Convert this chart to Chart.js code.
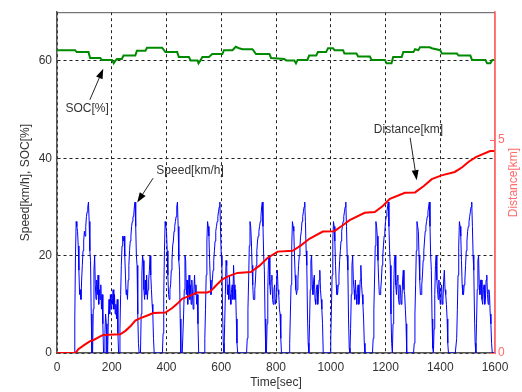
<!DOCTYPE html>
<html><head><meta charset="utf-8">
<script src="https://cdn.jsdelivr.net/npm/chart.js@4.4.0/dist/chart.umd.min.js"></script>
<style>html,body{margin:0;padding:0;background:#fff;}canvas{display:block;}</style>
</head><body>
<canvas id="c" width="522" height="392"></canvas>
<script>
// ---- data ----
const speedStepSec = 2.5; // speed sampled every 2.5 s, starting at t = 0 (20 values per 50 s row)
const speedKmh = [
  0,0,0,0,0,0,0,0,0,0,0,0,0,0,0,0,0,0,0,0,
  0,0,0,0,0,0,7,20,27,26,25,22,17,12,13,11,15,18,21,23,
  25,24,26,28,29,30,31,27,21,19,8,0,0,9,17,20,14,11,15,12,
  16,10,13,11,14,9,12,6,0,0,4,8,6,0,0,7,11,8,12,9,
  12,10,13,9,12,8,10,7,11,4,0,0,5,12,18,22,24,23,24,20,
  16,12,13,11,15,18,21,23,24,26,27,28,28,30,31,26,20,18,8,2,
  0,0,0,8,16,20,19,13,11,15,12,16,11,13,15,17,20,16,13,10,
  8,3,0,0,0,0,0,0,0,0,0,0,0,0,0,4,12,21,27,26,
  25,21,16,12,11,13,14,17,19,22,23,25,26,27,28,30,31,26,19,17,
  7,0,0,0,0,8,13,20,19,12,15,10,13,16,11,14,10,15,12,9,
  13,16,12,14,10,12,6,0,0,0,0,0,0,0,0,0,3,9,16,23,
  27,26,24,19,15,12,13,15,17,19,21,23,25,26,27,28,29,30,31,25,
  20,18,8,2,0,6,12,19,18,12,14,11,16,12,10,13,14,11,18,14,
  11,13,7,2,0,0,0,0,0,0,0,0,0,0,0,0,0,0,3,9,
  15,22,27,26,23,18,14,11,11,13,15,18,21,23,24,25,26,27,28,30,
  31,26,20,17,7,0,0,6,13,19,20,14,12,15,16,11,10,13,14,10,
  11,15,17,13,12,9,8,3,0,0,0,0,0,0,0,0,0,0,0,0,
  2,8,14,22,27,26,25,20,16,13,12,13,15,18,20,22,24,25,27,28,
  29,30,31,27,21,18,8,2,0,6,13,19,20,14,12,15,16,11,10,13,
  14,10,12,15,17,13,11,9,6,0,0,0,0,0,0,0,0,0,0,0,
  3,9,16,23,27,26,23,18,14,12,12,14,16,19,21,23,25,26,27,28,
  29,30,31,26,20,17,7,1,0,5,12,18,20,15,13,11,15,12,10,13,
  14,10,11,15,18,14,12,10,7,2,0,0,0,0,0,0,0,0,0,0,
  0,0,3,9,15,22,27,26,24,19,15,12,12,13,15,18,20,22,24,25,
  27,28,29,30,31,26,21,18,8,2,0,6,13,19,20,14,12,15,16,11,
  10,14,13,10,11,15,17,13,12,9,6,0,0,0,0,0,0,0,0,0,
  0,0,2,8,14,21,27,26,25,20,15,12,12,14,16,19,21,23,25,26,
  27,28,29,30,31,26,20,17,7,1,0,5,12,18,20,15,13,11,15,12,
  10,13,14,10,11,15,17,13,12,10,7,2,0,0,0,0,0,0,0,0,
  0,0,0,0,3,9,16,22,27,26,24,19,14,12,12,14,15,18,21,23,
  25,26,27,28,29,30,31,26,20,17,8,2,0,6,13,19,20,14,12,15,
  15,11,10,13,14,10,11,15,16,12,10,13,12,8,6,2,0,0,0,0,
  0
];
const distTime = [0,64,70,78,100,121,132,158,169,231,250,270,286,305,330,352,396,420,440,457,480,512,549,561,580,604,625,659,708,740,769,806,861,890,922,971,1013,1040,1069,1124,1161,1190,1216,1271,1308,1340,1369,1405,1453,1480,1504,1530,1582,1600];
const distKm   = [0,0,0.02,0.09,0.19,0.28,0.30,0.39,0.42,0.44,0.52,0.64,0.76,0.82,0.88,0.94,0.95,1.05,1.16,1.27,1.33,1.42,1.42,1.45,1.58,1.73,1.80,1.88,1.90,2.05,2.23,2.38,2.40,2.52,2.68,2.85,2.86,2.98,3.12,3.29,3.31,3.45,3.62,3.76,3.77,3.92,4.08,4.17,4.25,4.36,4.49,4.60,4.74,4.74];
const socTime = [0,66,72,115,121,158,164,201,207,213,219,237,243,286,292,323,329,384,396,439,445,482,488,513,517,524,531,555,567,604,610,641,653,665,678,714,727,776,782,830,837,867,873,879,915,921,947,953,983,990,1008,1014,1045,1050,1094,1100,1143,1149,1198,1204,1222,1228,1259,1265,1302,1308,1320,1326,1362,1369,1400,1406,1461,1467,1510,1516,1565,1571,1583,1590,1600];
const socPct  = [62.2,62.2,61.8,61.8,60.6,60.6,60.2,60.2,59.5,60.0,60.4,60.4,61.1,61.1,62.1,62.1,62.7,62.7,61.8,61.8,60.8,60.8,60.1,60.1,59.5,60.1,60.8,60.8,61.4,61.4,62.2,62.2,62.9,62.6,62.4,62.4,61.4,61.4,60.6,60.4,60.1,60.1,59.5,60.2,60.2,61.1,61.1,61.8,61.8,62.6,62.6,62.2,62.2,61.5,61.5,60.9,60.9,60.2,60.2,59.5,59.5,60.8,60.8,61.8,61.8,62.4,62.2,62.8,62.8,62.6,62.2,61.5,61.5,61.1,61.1,60.2,60.2,59.5,59.5,60.2,60.2];
const xTickValues = [0,200,400,600,800,1000,1200,1400,1600];
const yLeftTickValues = [0,20,40,60];
const yRightTickValues = [0,5];
const labels = {x:'Time[sec]', yLeft:'Speed[km/h], SOC[%]', yRight:'Distance[km]'};
// annotations: text and arrow in data units (time, left-axis value)
const notes = [
  {text:'SOC[%]',      tx:110,  ty:50.1, from:[120,52.0],  to:[169,58.4]},
  {text:'Speed[km/h]', tx:486,  ty:37.4, from:[351,35.9],  to:[293,30.9]},
  {text:'Distance[km]',tx:1284, ty:45.8, from:[1290,44.2], to:[1314,35.5]}
];

// ---- styles ----
const FONT = '"Liberation Sans", Arial, Helvetica, sans-serif';
const TXT = '#333';
const RED_AX = '#ff6a6a';
Chart.defaults.font.family = FONT;
Chart.defaults.font.size = 12;
Chart.defaults.color = TXT;

const extras = {
  id:'extras',
  afterDraw(chart){
    const {ctx, chartArea:a, scales} = chart;
    ctx.save();
    ctx.setLineDash([]);
    // top border
    ctx.strokeStyle = '#555'; ctx.lineWidth = 1;
    ctx.beginPath(); ctx.moveTo(a.left, a.top+0.5); ctx.lineTo(a.right, a.top+0.5); ctx.stroke();
    // right axis line (solid) and its tick marks
    ctx.strokeStyle = RED_AX; ctx.lineWidth = 1.5;
    ctx.beginPath(); ctx.moveTo(a.right, a.top); ctx.lineTo(a.right, a.bottom); ctx.stroke();
    ctx.lineWidth = 1;
    yRightTickValues.forEach(v=>{
      const y = Math.round(scales.y2.getPixelForValue(v))+0.5;
      ctx.beginPath(); ctx.moveTo(a.right-5, y); ctx.lineTo(a.right, y); ctx.stroke();
    });
    // right title, reading bottom to top
    ctx.fillStyle = RED_AX; ctx.font = '12px '+FONT;
    ctx.textAlign='center'; ctx.textBaseline='middle';
    ctx.translate(514, (a.top+a.bottom)/2); ctx.rotate(-Math.PI/2);
    ctx.fillText(labels.yRight, 0, 0);
    ctx.restore();
    // annotations
    ctx.save();
    ctx.setLineDash([]);
    ctx.font = '12px '+FONT; ctx.textAlign='center'; ctx.textBaseline='middle';
    const X = v=>scales.x.getPixelForValue(v), Y = v=>scales.y.getPixelForValue(v);
    notes.forEach(n=>{
      ctx.fillStyle = TXT;
      ctx.fillText(n.text, X(n.tx), Y(n.ty));
      const x1=X(n.from[0]), y1=Y(n.from[1]), x2=X(n.to[0]), y2=Y(n.to[1]);
      const ang = Math.atan2(y2-y1, x2-x1), L=10, W=3.5;
      const bx = x2 - L*Math.cos(ang), by = y2 - L*Math.sin(ang);
      ctx.strokeStyle='#222'; ctx.lineWidth=1;
      ctx.beginPath(); ctx.moveTo(x1,y1); ctx.lineTo(bx,by); ctx.stroke();
      ctx.fillStyle='#000';
      ctx.beginPath(); ctx.moveTo(x2,y2);
      ctx.lineTo(bx + W*Math.sin(ang), by - W*Math.cos(ang));
      ctx.lineTo(bx - W*Math.sin(ang), by + W*Math.cos(ang));
      ctx.closePath(); ctx.fill();
    });
    ctx.restore();
  }
};

const gridStyle = {color:'#222', lineWidth:1, drawTicks:false};
new Chart(document.getElementById('c'), {
  type:'line',
  data:{datasets:[
    {label:'Distance', data:distTime.map((t,i)=>({x:t,y:distKm[i]})), borderColor:'#ff0000', borderWidth:2, pointRadius:0, yAxisID:'y2'},
    {label:'SOC', data:socTime.map((t,i)=>({x:t,y:socPct[i]})), borderColor:'#008a00', borderWidth:2, pointRadius:0, yAxisID:'y'},
    {label:'Speed', data:speedKmh.map((v,i)=>({x:i*speedStepSec,y:v})), borderColor:'#0000ff', borderWidth:1, pointRadius:0, yAxisID:'y'}
  ]},
  options:{
    responsive:false, animation:false, devicePixelRatio:1,
    layout:{padding:{top:8}},
    plugins:{legend:{display:false}, tooltip:{enabled:false}},
    elements:{line:{tension:0}},
    scales:{
      x:{type:'linear', min:0, max:1600,
         afterBuildTicks:s=>{s.ticks = xTickValues.map(v=>({value:v}));},
         afterFit:s=>{s.height = 39;},
         ticks:{padding:7, maxRotation:0, color:TXT, callback:v=>String(v)},
         grid:{...gridStyle, color:c=> (c.tick && c.tick.value===1600) ? 'rgba(0,0,0,0)' : '#222'},
         border:{dash:[3,3], color:'#555', width:1.5},
         title:{display:true, text:labels.x, padding:{top:0,bottom:2}, color:TXT, font:{size:12}}},
      y:{type:'linear', position:'left', min:0, max:70,
         afterBuildTicks:s=>{s.ticks = yLeftTickValues.map(v=>({value:v}));},
         afterFit:s=>{s.width = 57;},
         ticks:{padding:5, color:TXT, callback:v=>String(v)},
         grid:gridStyle, border:{dash:[3,3], color:'#555', width:1.5},
         title:{display:true, text:labels.yLeft, padding:{top:18,bottom:0}, color:TXT, font:{size:12}}},
      y2:{type:'linear', position:'right', min:0, max:8,
         afterBuildTicks:s=>{s.ticks = yRightTickValues.map(v=>({value:v}));},
         afterFit:s=>{s.width = 27;},
         ticks:{padding:3, color:RED_AX, callback:v=>String(v)},
         grid:{display:false, drawTicks:false}, border:{color:RED_AX, width:1.5}}
    }
  },
  plugins:[extras]
});
</script>
</body></html>
